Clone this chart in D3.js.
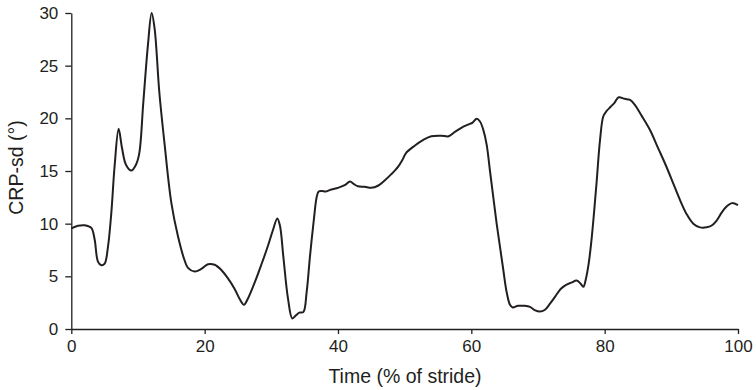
<!DOCTYPE html>
<html><head><meta charset="utf-8">
<script src="https://cdn.jsdelivr.net/npm/d3@7"></script>
<style>body{margin:0;background:#fff}text{font-family:"Liberation Sans",Arial,sans-serif;fill:#231f20}</style>
</head><body><svg id="c" width="756" height="390"></svg>
<script>
const timePct = [0,1,2,3,3.5,4,4.5,5,5.5,6,6.5,7.1,7.6,8.2,9,9.7,10.2,10.8,11.5,12.05,12.5,13.2,14,15,16,17,17.5,18.5,19.5,20.5,21.5,22.5,23.5,24.5,25.3,25.9,26.5,27.5,28.5,29.5,30.2,30.9,31.3,31.8,32.5,33.15,33.7,34.2,34.8,35.3,35.8,36.4,36.8,37.1,37.6,38.2,39,40,41,41.8,42.4,43,44,45,46,47,48,49,49.7,50.2,51.5,52.8,54,55.5,56.6,57.5,58.5,59.5,60.2,60.8,61.3,61.8,62.3,62.8,63.3,63.8,64.3,64.8,65.3,65.8,66.2,67,68,68.8,69.5,70.3,71,71.8,72.6,73.4,74.1,75,75.8,76.4,76.8,77.2,77.6,78,78.4,78.8,79.3,79.8,80.3,80.9,81.5,82.1,83,83.8,84.5,85.5,86.8,88,89.2,90.3,91.2,92.3,93.3,94.3,95.3,96,96.8,97.6,98.4,99.1,100];
const crpSd = [9.55,9.8,9.85,9.6,8.5,6.4,6.05,6.2,7.8,11,15.5,19,17.2,15.6,15.05,15.6,16.7,21.5,27,30,28.5,22.5,17.5,12,8.8,6.5,5.8,5.45,5.7,6.15,6.1,5.6,4.8,3.8,2.8,2.3,2.9,4.4,6.1,7.9,9.3,10.5,9.8,6.9,2.9,1.0,1.3,1.55,1.6,3.5,6.9,10.5,12.5,13.05,13.1,13.05,13.25,13.4,13.65,14.0,13.75,13.55,13.5,13.4,13.6,14.1,14.7,15.4,16.1,16.7,17.4,17.95,18.3,18.35,18.3,18.7,19.1,19.4,19.6,19.95,19.7,18.9,17.5,15,12.5,10.0,7.8,5.6,3.5,2.3,2.05,2.2,2.2,2.1,1.8,1.65,1.8,2.4,3.1,3.8,4.15,4.4,4.6,4.3,4.0,4.8,6.2,8.3,11,14,17.9,20.2,20.7,21.1,21.5,22.0,21.85,21.75,21.3,20.3,18.9,17.2,15.5,13.8,12.4,10.9,10.0,9.65,9.65,9.8,10.3,11.1,11.7,11.95,11.75];
const xTicks = [0,20,40,60,80,100];
const yTicks = [0,5,10,15,20,25,30];
const xLabel = "Time (% of stride)";
const yLabel = "CRP-sd (°)";

const svg = d3.select("#c");
const x = d3.scaleLinear().domain([0,100]).range([71.3,738]);
const y = d3.scaleLinear().domain([0,30]).range([329,13]);
const col = "#231f20";

const xa = svg.append("g").attr("transform","translate(0,329)")
  .call(d3.axisBottom(x).tickValues(xTicks).tickSize(5).tickPadding(6).tickSizeOuter(0));
const ya = svg.append("g").attr("transform","translate(71.3,0)")
  .call(d3.axisLeft(y).tickValues(yTicks).tickSize(6).tickPadding(7).tickSizeOuter(0));
[xa,ya].forEach(a=>{
  a.selectAll("path,line").attr("stroke",col).attr("stroke-width",1.3);
  a.selectAll("text").attr("font-size",17).attr("fill",col).style("font-family","'Liberation Sans',Arial,sans-serif");
});

svg.append("text").attr("x",405).attr("y",383).attr("text-anchor","middle").attr("font-size",19.5).text(xLabel);
svg.append("text").attr("transform","translate(23,167.5) rotate(-90)").attr("text-anchor","middle").attr("font-size",19.5).text(yLabel);

const pts = timePct.map((t,i)=>[t,crpSd[i]]);
svg.append("path").datum(pts)
  .attr("fill","none").attr("stroke",col).attr("stroke-width",2).attr("stroke-linejoin","round")
  .attr("d", d3.line().x(d=>x(d[0])).y(d=>y(d[1])).curve(d3.curveCatmullRom.alpha(0.5)));
</script></body></html>
